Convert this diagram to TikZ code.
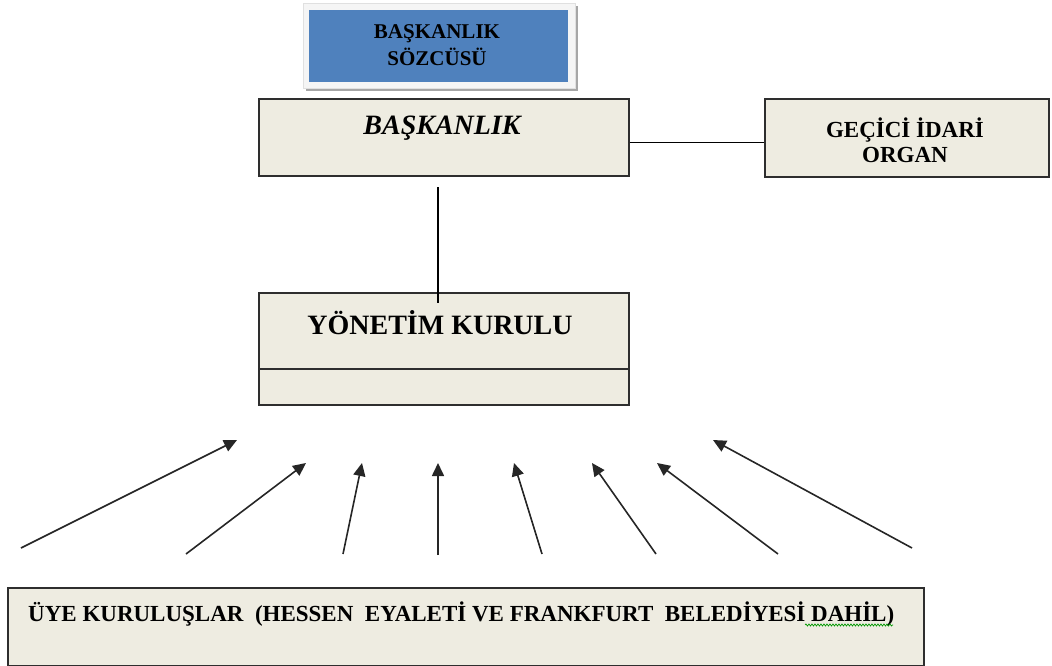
\documentclass[tikz,border=0pt]{standalone}
\usepackage{fontspec}
\setmainfont{Liberation Serif}
\usetikzlibrary{arrows.meta,decorations.pathmorphing}
\definecolor{boxfill}{HTML}{EEECE1}
\definecolor{boxline}{HTML}{2E2E2E}
\definecolor{sozblue}{HTML}{4F81BD}
\tikzset{
  box/.style={draw=boxline, fill=boxfill, line width=1.6pt, rectangle, inner sep=0pt, anchor=north west},
  lbl/.style={font=\bfseries, text=black, align=center, inner sep=0pt},
  link/.style={draw=black, line width=1.4pt},
  feed/.style={draw=black!85, line width=1.6pt, -{Triangle[length=13pt,width=12pt]}}
}
\begin{document}
\begin{tikzpicture}[x=1pt,y=-1pt]
\useasboundingbox (0,0) rectangle (1052,666);
% spokesperson box
\fill[black!35] (306,6) rectangle (578,91);
\node[draw=black!12, fill=black!4, line width=0.8pt, rectangle, inner sep=0pt, anchor=north west,
      minimum width=272pt, minimum height=85pt] (sozframe) at (303,3) {};
\node[fill=sozblue, rectangle, inner sep=0pt, anchor=north west,
      minimum width=259pt, minimum height=72pt] (soz) at (309,10) {};
\node[lbl, font=\bfseries\fontsize{21}{27}\selectfont] (soztext) at (437,45) {BAŞKANLIK\\SÖZCÜSÜ};
% presidency
\node[box, minimum width=370pt, minimum height=77pt] (bask) at (258,98) {};
\node[lbl, font=\bfseries\itshape\fontsize{28}{30}\selectfont] (basktext) at (442,128) {BAŞKANLIK};
% temporary organ
\node[box, minimum width=284pt, minimum height=78pt] (gecici) at (764,98) {};
\node[lbl, font=\bfseries\fontsize{23}{25}\selectfont] (gecicitext) at (905,140) {GEÇİCİ İDARİ\\ORGAN};
% board
\node[box, minimum width=370pt, minimum height=112pt] (yon) at (258,292) {};
\draw[boxline, line width=1.6pt] (yon.west |- 0,369) coordinate (dl) -- (yon.east |- 0,369) coordinate (dr);
\node[lbl, font=\bfseries\fontsize{28}{30}\selectfont] (yontext) at (440,323) {YÖNETİM KURULU};
% members
\node[box, line width=2pt, minimum width=916pt, minimum height=78pt] (uye) at (7,587) {};
\node[lbl, anchor=base west, font=\bfseries\fontsize{23}{25}\selectfont] (uyetext) at (28,621)
  {ÜYE KURULUŞLAR\ \ (HESSEN\ \ EYALETİ VE FRANKFURT\ \ BELEDİYESİ DAHİL)};
\draw[green!60!black, line width=0.7pt, decorate, decoration={snake, amplitude=1pt, segment length=3pt}]
  (805,625) -- (893,625);
% connectors
\draw[link] ([yshift=-5.5pt]bask.east) -- ([yshift=-5.5pt]bask.east -| gecici.west);
\coordinate (v1) at (438,187);
\coordinate (v2) at (438,303);
\draw[link] (v1) -- (v2);
% arrows
\foreach \i/\sx/\sy/\ex/\ey in {1/21/548/237/440, 2/186/554/306/463, 3/343/554/362/463, 4/438/555/438/463,
  5/542/554/514/463, 6/656/554/592/463, 7/778/554/657/463, 8/912/548/713/440}{
  \coordinate (s\i) at (\sx,\sy);
  \coordinate (e\i) at (\ex,\ey);
  \draw[feed] (s\i) -- (e\i);
}
\end{tikzpicture}
\end{document}
